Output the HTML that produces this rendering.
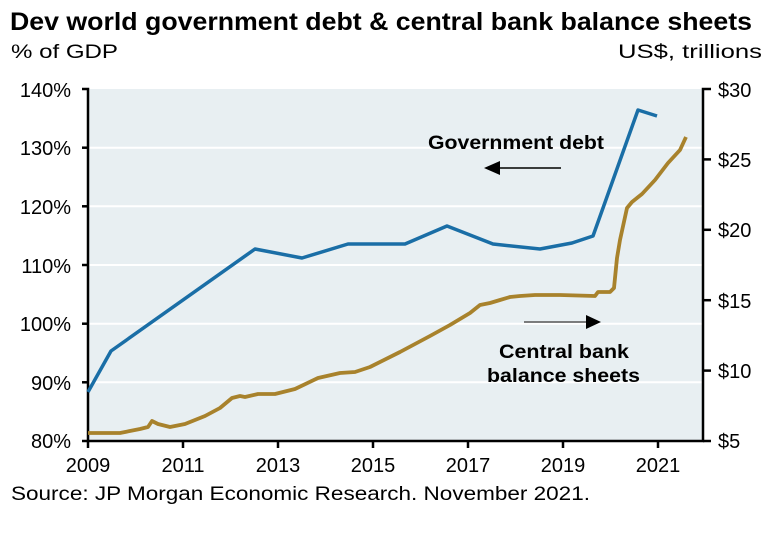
<!DOCTYPE html>
<html><head><meta charset="utf-8"><style>
body{margin:0;background:#fff;}
svg text{font-family:"Liberation Sans",Arial,sans-serif;fill:#000;}
</style></head><body>
<svg width="770" height="530" xmlns="http://www.w3.org/2000/svg">
<text x="10" y="30" font-size="25" font-weight="bold" textLength="742" lengthAdjust="spacingAndGlyphs">Dev world government debt &amp; central bank balance sheets</text>
<text x="11" y="58" font-size="19" textLength="107" lengthAdjust="spacingAndGlyphs">% of GDP</text>
<text x="618" y="58" font-size="19" textLength="144" lengthAdjust="spacingAndGlyphs">US$, trillions</text>
<rect x="88" y="89" width="615" height="352" fill="#e8eff2"/>
<g stroke="#fff" stroke-width="2">
<line x1="88" x2="703" y1="147.7" y2="147.7"/><line x1="88" x2="703" y1="206.3" y2="206.3"/>
<line x1="88" x2="703" y1="265" y2="265"/><line x1="88" x2="703" y1="323.7" y2="323.7"/>
<line x1="88" x2="703" y1="382.3" y2="382.3"/>
</g>
<g stroke="#000" stroke-width="2.5" fill="none">
<polyline points="82,89 88,89 88,441 703,441 703,89 711,89"/>
<line x1="82" x2="88" y1="147.7" y2="147.7"/><line x1="82" x2="88" y1="206.3" y2="206.3"/>
<line x1="82" x2="88" y1="265" y2="265"/><line x1="82" x2="88" y1="323.7" y2="323.7"/>
<line x1="82" x2="88" y1="382.3" y2="382.3"/><line x1="82" x2="88" y1="441" y2="441"/>
<line x1="703" x2="711" y1="159.4" y2="159.4"/><line x1="703" x2="711" y1="229.8" y2="229.8"/>
<line x1="703" x2="711" y1="300.2" y2="300.2"/><line x1="703" x2="711" y1="370.6" y2="370.6"/>
<line x1="703" x2="711" y1="441" y2="441"/>
<line x1="88" x2="88" y1="441" y2="448"/><line x1="183" x2="183" y1="441" y2="448"/>
<line x1="278" x2="278" y1="441" y2="448"/><line x1="373" x2="373" y1="441" y2="448"/>
<line x1="468" x2="468" y1="441" y2="448"/><line x1="563" x2="563" y1="441" y2="448"/>
<line x1="658" x2="658" y1="441" y2="448"/>
</g>
<g font-size="20" text-anchor="end">
<text x="71" y="97">140%</text><text x="71" y="155">130%</text><text x="71" y="214">120%</text>
<text x="71" y="273">110%</text><text x="71" y="331">100%</text><text x="71" y="390">90%</text><text x="71" y="448">80%</text>
</g>
<g font-size="20">
<text x="718" y="97">$30</text><text x="718" y="167">$25</text><text x="718" y="237">$20</text>
<text x="718" y="308">$15</text><text x="718" y="378">$10</text><text x="718" y="448">$5</text>
</g>
<g font-size="20" text-anchor="middle">
<text x="88" y="472">2009</text><text x="183" y="472">2011</text><text x="278" y="472">2013</text>
<text x="373" y="472">2015</text><text x="468" y="472">2017</text><text x="563" y="472">2019</text><text x="658" y="472">2021</text>
</g>
<text x="11" y="500" font-size="19" textLength="579" lengthAdjust="spacingAndGlyphs">Source: JP Morgan Economic Research. November 2021.</text>
<polyline fill="none" stroke="#1a6ea6" stroke-width="3.5" stroke-linejoin="round" points="88,392 111,351 255,249 302,258 348,244 405,244 447,226 493,244 540,249 572,243 593,236 638,110 657,116"/>
<polyline fill="none" stroke="#a8822c" stroke-width="3.8" stroke-linejoin="round" points="88,433 120,433 140,429 148,427 152,421 158,424 170,427 185,424 205,416 220,408 232,398 240,396 245,397 258,394 275,394 295,389 318,378 340,373 355,372 370,367 400,352 430,336 450,325 470,313 480,305 490,303 500,300 510,297 520,296 535,295 560,295 595,296 598,292 610,292 614,288 617,258 620,240 627,208 632,202 642,194 655,180 668,163 680,150 686,137"/>
<text x="428" y="149" font-size="19" font-weight="bold" textLength="176" lengthAdjust="spacingAndGlyphs">Government debt</text>
<line x1="561" y1="168" x2="496" y2="168" stroke="#000" stroke-width="1.5"/>
<polygon points="484,168 500,161 500,175" fill="#000"/>
<line x1="524" y1="322" x2="590" y2="322" stroke="#555" stroke-width="1.5"/>
<polygon points="601,322 586,315 586,329" fill="#000"/>
<text x="499" y="358" font-size="19" font-weight="bold" textLength="130" lengthAdjust="spacingAndGlyphs">Central bank</text>
<text x="487" y="382" font-size="19" font-weight="bold" textLength="153" lengthAdjust="spacingAndGlyphs">balance sheets</text>
</svg>
</body></html>
